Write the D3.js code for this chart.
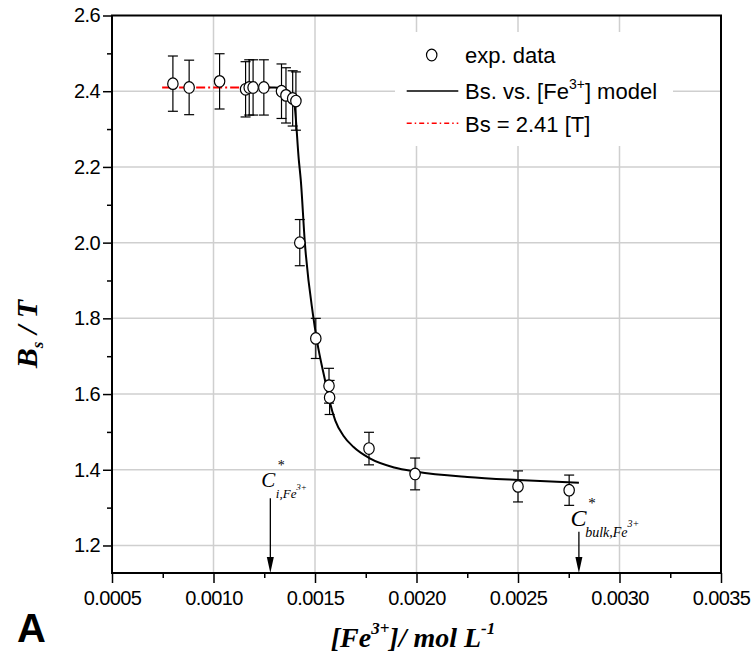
<!DOCTYPE html>
<html>
<head>
<meta charset="utf-8">
<script src="https://d3js.org/d3.v7.min.js"></script>
<style>
  body { margin:0; background:#fff; }
  svg { display:block; }
</style>
</head>
<body>
<script>
// exp. data  ([Fe3+] in mol/L, Bs in T, error bar half height)
const expX = [0.00080, 0.00088, 0.00103, 0.001158, 0.001176, 0.001195, 0.001248, 0.001335, 0.001357, 0.00139, 0.001406,
              0.001425, 0.001504, 0.001569, 0.001572, 0.001766, 0.001993, 0.0025, 0.002752]
const expY = [2.42, 2.41, 2.426, 2.405, 2.41, 2.41, 2.41, 2.40, 2.389, 2.381, 2.374,
              2.00, 1.747, 1.622, 1.591, 1.456, 1.389, 1.356, 1.346]
const expErr = [0.073, 0.072, 0.073, 0.073, 0.073, 0.073, 0.073, 0.072, 0.073, 0.073, 0.077,
                0.061, 0.053, 0.046, 0.045, 0.043, 0.042, 0.041, 0.040]

// model curve
const modelX = [0.00127, 0.00130, 0.00134, 0.00137, 0.00139, 0.00140, 0.00142, 0.00143, 0.00145, 0.00149, 0.00151,
                0.00155, 0.00157, 0.00160, 0.00164, 0.00169, 0.00177, 0.00189, 0.00200, 0.00225, 0.00250, 0.00280]
const modelY = [2.41, 2.41, 2.407, 2.40, 2.385, 2.36, 2.22, 2.165, 2.00, 1.81, 1.74,
                1.635, 1.585, 1.53, 1.49, 1.46, 1.43, 1.406, 1.395, 1.381, 1.373, 1.366]

// Bs = 2.41 line
const bsX = [0.000747, 0.00128]
const bsY = [2.41, 2.41]

// tick labels
const xTicks = [0.0005, 0.0010, 0.0015, 0.0020, 0.0025, 0.0030, 0.0035]
const xMinor = [0.00075, 0.00125, 0.00175, 0.00225, 0.00275, 0.00325]
const yTicks = [1.2, 1.4, 1.6, 1.8, 2.0, 2.2, 2.4, 2.6]
const yMinor = [1.3, 1.5, 1.7, 1.9, 2.1, 2.3, 2.5]

// arrows on the x axis (C*)
const annX = [0.00128, 0.0028]
const annTailY = [1.325, 1.236]
const annSub = ["i,Fe", "bulk,Fe"]

const svgWidth = 753, svgHeight = 660
const margin = {top:15.5, right:32, bottom:87, left:112}
const gWidth = svgWidth - margin.left - margin.right
const gHeight = svgHeight - margin.top - margin.bottom

const xScale = d3.scaleLinear().domain([0.0005, 0.0035]).range([0, gWidth])
const yScale = d3.scaleLinear().domain([1.1273, 2.6]).range([gHeight, 0])

const svg = d3.select("body").append("svg")
  .attr("width", svgWidth)
  .attr("height", svgHeight)
  .style("font-family", "'Liberation Sans', Arial, sans-serif")

const g = svg.append("g")
  .attr("transform", "translate(" + margin.left + "," + margin.top + ")")

// grid
g.append("g").selectAll("line")
  .data(xTicks.slice(1, -1))
  .enter().append("line")
  .attr("x1", d => xScale(d)).attr("x2", d => xScale(d))
  .attr("y1", 0).attr("y2", gHeight)
  .attr("stroke", "#cfcfcf").attr("stroke-width", 1.5)

g.append("g").selectAll("line")
  .data(yTicks.slice(0, -1))
  .enter().append("line")
  .attr("x1", 0).attr("x2", gWidth)
  .attr("y1", d => yScale(d)).attr("y2", d => yScale(d))
  .attr("stroke", "#cfcfcf").attr("stroke-width", 1.5)

// legend background hides the grid
const legend = svg.append("g").attr("transform", "translate(395,32)")
legend.append("rect")
  .attr("width", 278).attr("height", 114)
  .attr("fill", "#fff")

// axes
const xAxis = d3.axisBottom(xScale).tickValues(xTicks).tickSize(10).tickPadding(8)
  .tickFormat(d3.format(".4f"))
const xAxisMinor = d3.axisBottom(xScale).tickValues(xMinor).tickSize(5).tickFormat("")
const yAxis = d3.axisLeft(yScale).tickValues(yTicks).tickSize(9).tickPadding(3)
  .tickFormat(d3.format(".1f"))
const yAxisMinor = d3.axisLeft(yScale).tickValues(yMinor).tickSize(5).tickFormat("")

function styleAxis(sel) {
  sel.select(".domain").remove()
  sel.selectAll("line").attr("stroke", "#000").attr("stroke-width", 1.5)
  sel.selectAll("text").attr("fill", "#000")
    .style("font-family", "'Liberation Sans', Arial, sans-serif")
    .style("font-size", "20px").style("letter-spacing", "-0.6px")
}

g.append("g").attr("transform", "translate(0," + gHeight + ")").call(xAxis).call(styleAxis)
g.append("g").attr("transform", "translate(0," + gHeight + ")").call(xAxisMinor).call(styleAxis)
g.append("g").call(yAxis).call(styleAxis)
g.append("g").call(yAxisMinor).call(styleAxis)

// frame
g.append("rect")
  .attr("width", gWidth).attr("height", gHeight)
  .attr("fill", "none").attr("stroke", "#000").attr("stroke-width", 2)

// Bs = 2.41 line
const line = d3.line().x(d => xScale(d[0])).y(d => yScale(d[1]))
g.append("path")
  .datum(d3.zip(bsX, bsY))
  .attr("d", line)
  .attr("fill", "none").attr("stroke", "#ff0000").attr("stroke-width", 2)
  .attr("stroke-dasharray", "9,3,2,3")

// model
g.append("path")
  .datum(d3.zip(modelX, modelY))
  .attr("d", line.curve(d3.curveMonotoneX))
  .attr("fill", "none").attr("stroke", "#000").attr("stroke-width", 2)

// error bars
const pts = d3.zip(expX, expY, expErr)
const eb = g.append("g").attr("stroke", "#000").attr("stroke-width", 1.2)
pts.forEach(function(d) {
  var x = xScale(d[0]), y0 = yScale(d[1] - d[2]), y1 = yScale(d[1] + d[2])
  eb.append("line").attr("x1", x).attr("x2", x).attr("y1", y0).attr("y2", y1)
  eb.append("line").attr("x1", x - 5).attr("x2", x + 5).attr("y1", y0).attr("y2", y0)
  eb.append("line").attr("x1", x - 5).attr("x2", x + 5).attr("y1", y1).attr("y2", y1)
})

// points
g.append("g").selectAll("ellipse")
  .data(pts)
  .enter().append("ellipse")
  .attr("cx", d => xScale(d[0]))
  .attr("cy", d => yScale(d[1]))
  .attr("rx", 5.2).attr("ry", 5.8)
  .attr("fill", "#fff").attr("stroke", "#000").attr("stroke-width", 1.2)

// C* arrows
const annStyle = [
  {c:21, star:14, sub:13, sup:9, cdx:-9, cdy:-11.5, sdx:11, sdy:-28, bdx:5.5, bdy:0, pdx:26, pdy:-8},
  {c:24, star:15, sub:14, sup:10, cdx:-8.5, cdy:-6, sdx:13, sdy:-24, bdx:6.3, bdy:5, pdx:48.5, pdy:-5}
]
annX.forEach(function(v, i) {
  var ax = xScale(v), ty = yScale(annTailY[i]), st = annStyle[i]
  g.append("line").attr("x1", ax).attr("x2", ax).attr("y1", ty).attr("y2", gHeight - 14)
    .attr("stroke", "#000").attr("stroke-width", 1.3)
  g.append("path")
    .attr("d", "M" + (ax - 3.5) + "," + (gHeight - 16) + "L" + (ax + 3.5) + "," + (gHeight - 16) + "L" + ax + "," + gHeight + "Z")
    .attr("fill", "#000")
  var t = g.append("g").style("font-family", "'Liberation Serif', 'Times New Roman', serif").style("font-style", "italic")
  t.append("text").attr("x", ax + st.cdx).attr("y", ty + st.cdy).style("font-size", st.c + "px").text("C")
  t.append("text").attr("x", ax + st.sdx).attr("y", ty + st.sdy).attr("text-anchor", "middle")
    .style("font-size", st.star + "px").style("font-style", "normal").text("*")
  t.append("text").attr("x", ax + st.bdx).attr("y", ty + st.bdy).style("font-size", st.sub + "px").text(annSub[i])
  t.append("text").attr("x", ax + st.pdx).attr("y", ty + st.pdy).style("font-size", st.sup + "px").text("3+")
})

// legend
legend.append("ellipse").attr("cx", 36.7).attr("cy", 23).attr("rx", 5.2).attr("ry", 5.8)
  .attr("fill", "#fff").attr("stroke", "#000").attr("stroke-width", 1.2)
legend.append("line").attr("x1", 11.7).attr("x2", 63.3).attr("y1", 59).attr("y2", 59)
  .attr("stroke", "#000").attr("stroke-width", 1.5)
legend.append("line").attr("x1", 11.7).attr("x2", 63.3).attr("y1", 91.3).attr("y2", 91.3)
  .attr("stroke", "#ff0000").attr("stroke-width", 1.5).attr("stroke-dasharray", "5,3,1.5,3")

const lt = legend.append("g").style("font-size", "22px").attr("fill", "#000")
lt.append("text").attr("x", 70).attr("y", 31).text("exp. data")
const lt2 = lt.append("text").attr("x", 70).attr("y", 67)
lt2.append("tspan").text("Bs. vs. [Fe")
lt2.append("tspan").attr("dy", -10).style("font-size", "14px").text("3+")
lt2.append("tspan").attr("dy", 10).text("] model")
lt.append("text").attr("x", 70).attr("y", 100).text("Bs = 2.41 [T]")

// axis titles
const xt = svg.append("text")
  .attr("x", 413).attr("y", 647)
  .attr("text-anchor", "middle")
  .style("font-family", "'Liberation Serif', 'Times New Roman', serif")
  .style("font-weight", "bold").style("font-style", "italic").style("font-size", "28px")
xt.append("tspan").text("[Fe")
xt.append("tspan").attr("dy", -13).style("font-size", "17px").text("3+")
xt.append("tspan").attr("dy", 13).text("]/ mol L")
xt.append("tspan").attr("dy", -13).style("font-size", "17px").text("-1")

const yt = svg.append("text")
  .attr("transform", "translate(37,334) rotate(-90)")
  .attr("text-anchor", "middle")
  .style("font-family", "'Liberation Serif', 'Times New Roman', serif")
  .style("font-weight", "bold").style("font-style", "italic").style("font-size", "30px")
yt.append("tspan").text("B")
yt.append("tspan").attr("dy", 6).style("font-size", "17px").text("s")
yt.append("tspan").attr("dy", -6).text(" / T")

// panel letter
svg.append("text").attr("x", 17).attr("y", 642)
  .style("font-weight", "bold").style("font-size", "40px").text("A")
</script>
</body>
</html>
